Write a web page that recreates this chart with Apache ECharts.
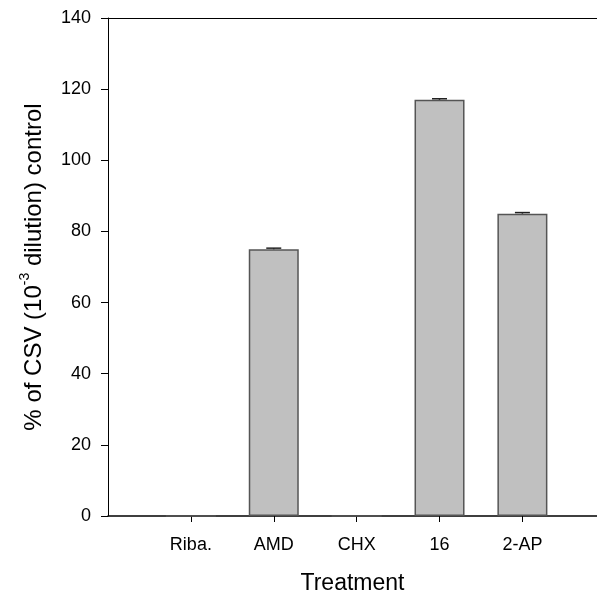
<!DOCTYPE html>
<html>
<head>
<meta charset="utf-8">
<script src="https://cdn.jsdelivr.net/npm/echarts@6/dist/echarts.min.js"></script>
<style>
  html, body { margin: 0; padding: 0; background: #fff; }
  #chart { width: 597px; height: 598px; }
</style>
</head>
<body>
<div id="chart"></div>
<script>
// Treatments along the x axis, placed at positions 1..5
const treatments = ['Riba.', 'AMD', 'CHX', '16', '2-AP'];
// Percent of CSV (10^-3 dilution) control for each treatment
const percentControl = [0, 75, 0, 117, 85];
// Error (half-height of the error bar) for each treatment
const errorValues = [0, 0.3, 0, 0.3, 0.3];
// Y axis ticks
const yTicks = [0, 20, 40, 60, 80, 100, 120, 140];

const positions = treatments.map((_, i) => i + 1);
const barData = positions.map((p, i) => [p, percentControl[i]]);
const errData = positions.map((p, i) => [p, percentControl[i], errorValues[i]]);

const font = 'Liberation Sans, Arial, sans-serif';
const chart = echarts.init(document.getElementById('chart'));

// The plot frame runs off the right edge, so the x range stops short of 6
const xMax = 5.9;

chart.setOption({
  animation: false,
  grid: { left: 108, right: 0, top: 18, bottom: 82, outerBoundsMode: 'none', containLabel: false },
  xAxis: [
    {
      type: 'value',
      min: 0, max: xMax,
      name: 'Treatment',
      nameLocation: 'middle',
      nameGap: 56,
      nameTextStyle: { fontFamily: font, fontSize: 23, color: '#000' },
      splitLine: { show: false },
      axisLine: { lineStyle: { color: '#000', width: 1.5 } },
      axisTick: { show: true, length: 6, customValues: positions, lineStyle: { color: '#000' } },
      axisLabel: {
        customValues: positions,
        margin: 20,
        fontFamily: font, fontSize: 18, color: '#000',
        formatter: v => treatments[Math.round(v) - 1] || ''
      }
    },
    {
      // top frame line
      type: 'value', position: 'top', min: 0, max: xMax,
      axisLine: { show: true, onZero: false, lineStyle: { color: '#000', width: 1 } },
      axisTick: { show: false }, axisLabel: { show: false }, splitLine: { show: false }
    }
  ],
  yAxis: {
    type: 'value',
    min: yTicks[0], max: yTicks[yTicks.length - 1], interval: 20,
    name: '{t|% of CSV (10}{s|-3}{t| dilution) control}',
    nameLocation: 'middle',
    nameRotate: 90,
    nameGap: 62,
    nameTextStyle: {
      fontFamily: font, fontSize: 24, color: '#000',
      rich: {
        t: { fontFamily: font, fontSize: 24, color: '#000', verticalAlign: 'bottom', lineHeight: 28 },
        s: { fontFamily: font, fontSize: 14, color: '#000', verticalAlign: 'top', lineHeight: 28 }
      }
    },
    splitLine: { show: false },
    axisLine: { show: true, lineStyle: { color: '#000', width: 1 } },
    axisTick: { show: true, length: 7, lineStyle: { color: '#000' } },
    axisLabel: { margin: 17, fontFamily: font, fontSize: 18, color: '#000' }
  },
  series: [
    {
      type: 'bar',
      data: barData,
      barWidth: 50,
      itemStyle: { color: '#c0c0c0', borderColor: '#555', borderWidth: 1.5 }
    },
    {
      type: 'custom',
      data: errData,
      z: 5,
      renderItem: function (params, api) {
        const x = api.value(0), y = api.value(1), e = api.value(2);
        if (!e) return null;
        const top = api.coord([x, y + e]);
        const bot = api.coord([x, y]);
        const half = 7.5;
        const style = { stroke: '#222', lineWidth: 1.5 };
        return {
          type: 'group',
          children: [
            { type: 'line', shape: { x1: top[0], y1: top[1], x2: bot[0], y2: bot[1] }, style },
            { type: 'line', shape: { x1: top[0] - half, y1: top[1], x2: top[0] + half, y2: top[1] }, style }
          ]
        };
      }
    }
  ]
});
</script>
</body>
</html>
